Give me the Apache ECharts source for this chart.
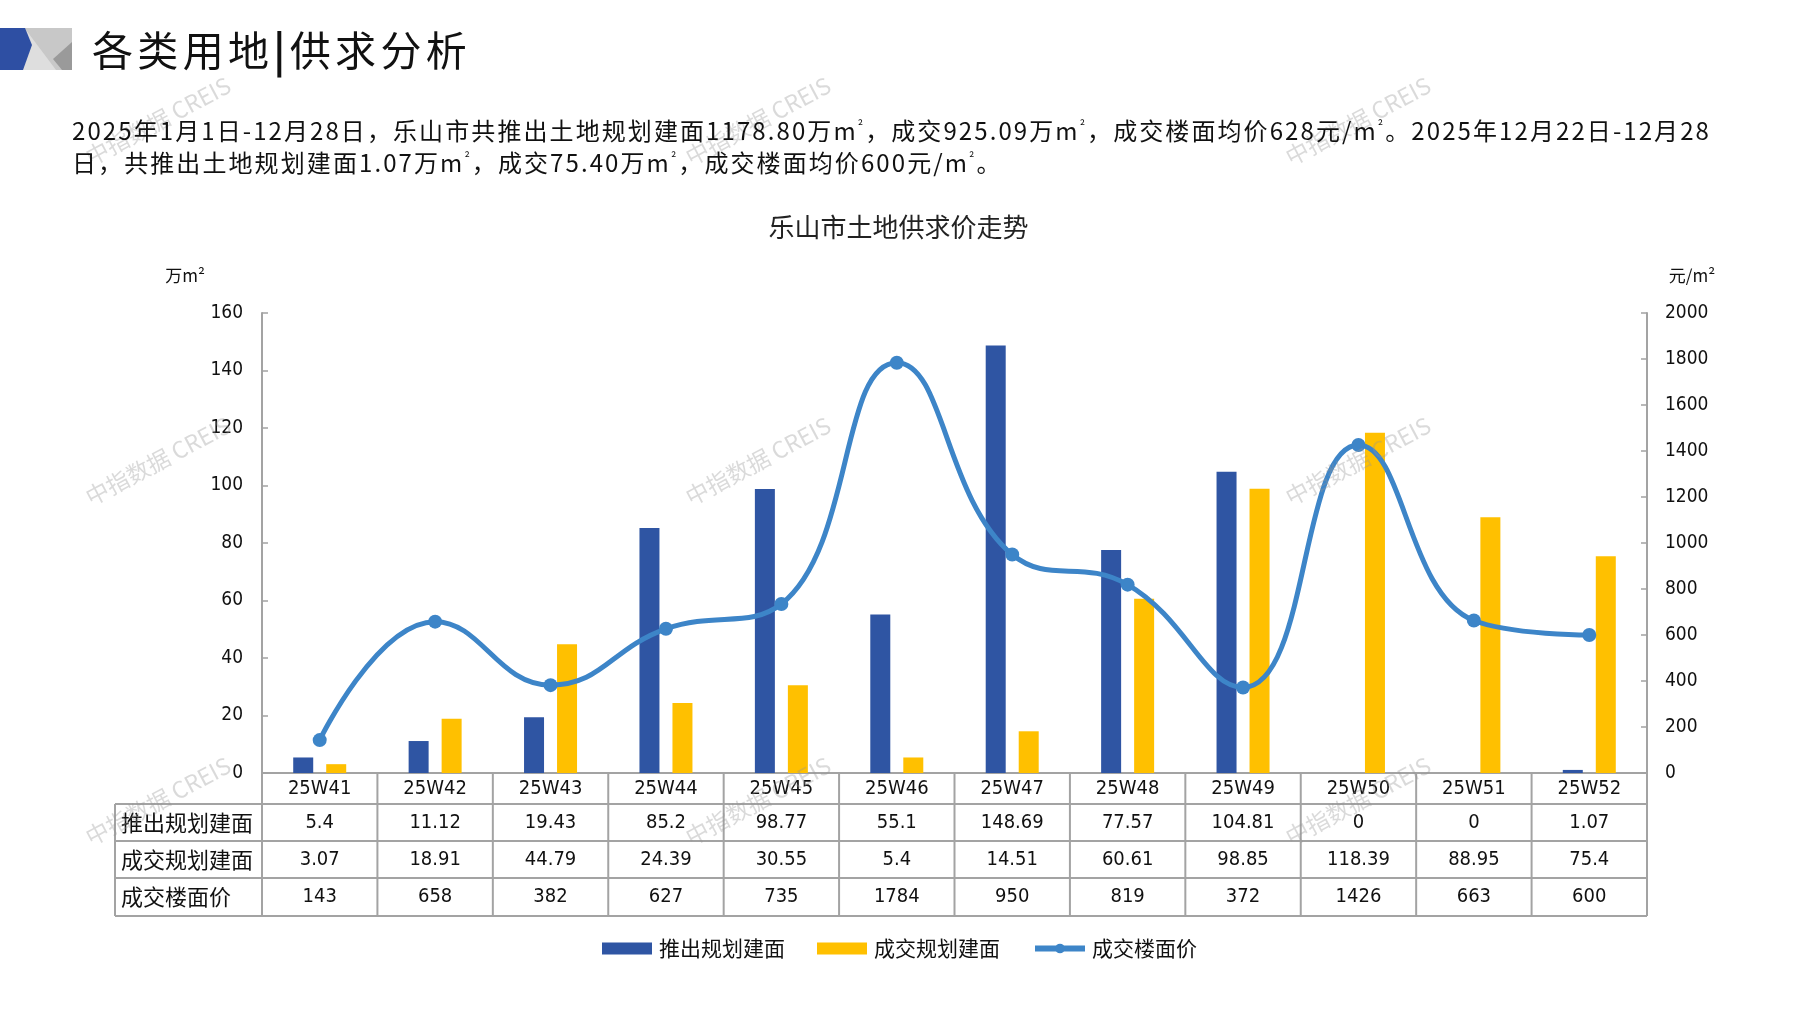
<!DOCTYPE html>
<html><head><meta charset="utf-8">
<script src="https://cdn.jsdelivr.net/npm/echarts@6/dist/echarts.min.js"></script>
<style>
html,body{margin:0;padding:0;background:#fff;width:1797px;height:1010px;overflow:hidden;}
#chart{position:absolute;left:0;top:0;width:1797px;height:1010px;}
.hd{position:absolute;font-family:"Noto Sans CJK SC",sans-serif;color:#111;white-space:nowrap;}
.sq{font-size:13px;vertical-align:9px;line-height:0;}
</style></head><body>
<div id="chart"></div>
<div class="hd" id="title" style="left:92px;top:20px;font-size:41px;line-height:56px;">各类用地<span style="font-weight:bold">|</span>供求分析</div>
<div class="hd" id="para" style="left:72px;top:114px;font-size:24px;line-height:32px;"><span id="l1">2025年1月1日-12月28日，乐山市共推出土地规划建面1178.80万m<span class="sq">²</span>，成交925.09万m<span class="sq">²</span>，成交楼面均价628元/m<span class="sq">²</span>。2025年12月22日-12月28</span><br><span id="l2">日，共推出土地规划建面1.07万m<span class="sq">²</span>，成交75.40万m<span class="sq">²</span>，成交楼面均价600元/m<span class="sq">²</span>。</span></div>
<script>
// ---- data ----
const categories = ['25W41','25W42','25W43','25W44','25W45','25W46','25W47','25W48','25W49','25W50','25W51','25W52'];
const supplyArea = [5.4, 11.12, 19.43, 85.2, 98.77, 55.1, 148.69, 77.57, 104.81, 0, 0, 1.07];
const dealArea = [3.07, 18.91, 44.79, 24.39, 30.55, 5.4, 14.51, 60.61, 98.85, 118.39, 88.95, 75.4];
const dealPrice = [143, 658, 382, 627, 735, 1784, 950, 819, 372, 1426, 663, 600];
const seriesNames = ['推出规划建面', '成交规划建面', '成交楼面价'];
const leftTicks = {min: 0, max: 160, interval: 20};
const rightTicks = {min: 0, max: 2000, interval: 200};

// letter spacing fit for header texts
(function(){
  const l1 = document.getElementById('l1');
  const w = l1.getBoundingClientRect().width;
  const n = l1.textContent.length;
  const ls = (1639 - w) / n;
  document.getElementById('para').style.letterSpacing = ls + 'px';
  const t = document.getElementById('title');
  const tw = t.getBoundingClientRect().width;
  t.style.letterSpacing = ((379 - tw) / t.textContent.length) + 'px';
})();

const FONT = '"Noto Sans CJK SC", sans-serif';
const NUMFONT = '"Liberation Sans Narrow", "DejaVu Sans Condensed", "Noto Sans CJK SC", sans-serif';
const BLUE = '#2F55A3', YELLOW = '#FFC000', LINE = '#3D85C8', GRID = '#a3a3a3';

const chart = echarts.init(document.getElementById('chart'));
const option = {
  backgroundColor: '#fff',
  animation: false,
  title: {text: '乐山市土地供求价走势', left: 'center', top: 209,
    textStyle: {fontFamily: FONT, fontSize: 26, fontWeight: 'normal', color: '#222'}},
  legend: {
    left: 597, top: 933, itemWidth: 50, itemHeight: 12, itemGap: 32,
    textStyle: {fontFamily: FONT, fontSize: 21, color: '#111', padding: [0, 0, 0, 2]},
    data: [{name: seriesNames[0], icon: 'rect'}, {name: seriesNames[1], icon: 'rect'},
           {name: seriesNames[2], lineStyle: {width: 6, color: LINE}, itemStyle: {color: LINE}}]
  },
  grid: {left: 262, right: 150, top: 313, bottom: 237, containLabel: false},
  xAxis: {
    type: 'category', data: categories,
    axisLine: {show: true, lineStyle: {color: GRID, width: 2}},
    axisTick: {show: false},
    axisLabel: {show: true, margin: 6, fontFamily: NUMFONT, fontSize: 20, color: '#111', interval: 0}
  },
  yAxis: [
    {type: 'value', min: leftTicks.min, max: leftTicks.max, interval: leftTicks.interval,
     splitLine: {show: false},
     axisLine: {show: true, lineStyle: {color: GRID, width: 2}},
     axisTick: {show: true, inside: true, length: 6, lineStyle: {color: GRID, width: 1.5}},
     axisLabel: {margin: 19, fontFamily: NUMFONT, fontSize: 19, color: '#111'}},
    {type: 'value', min: rightTicks.min, max: rightTicks.max, interval: rightTicks.interval,
     splitLine: {show: false},
     axisLine: {show: true, lineStyle: {color: GRID, width: 2}},
     axisTick: {show: true, inside: true, length: 6, lineStyle: {color: GRID, width: 1.5}},
     axisLabel: {margin: 18, fontFamily: NUMFONT, fontSize: 19, color: '#111', formatter: v => String(v)}}
  ],
  series: [
    {name: seriesNames[0], type: 'bar', data: supplyArea, barWidth: 20, barGap: '65%',
     itemStyle: {color: BLUE}},
    {name: seriesNames[1], type: 'bar', data: dealArea, barWidth: 20,
     itemStyle: {color: YELLOW}},
    {name: seriesNames[2], type: 'line', yAxisIndex: 1, data: dealPrice, smooth: 0.45,
     symbol: 'circle', symbolSize: 14, z: 5,
     lineStyle: {color: LINE, width: 5}, itemStyle: {color: LINE}}
  ]
};
chart.setOption(option);

// ---- table, logo, unit labels, watermarks ----
function buildGraphics(){
  const g = [];
  const xs = categories.map((c, i) => chart.convertToPixel({xAxisIndex: 0}, i));
  const bw = xs[1] - xs[0];
  const y0 = chart.convertToPixel({yAxisIndex: 0}, 0);
  const rowY = [y0, y0 + 31, y0 + 68, y0 + 105, y0 + 143];
  const tableLeft = 115;
  const tableRight = xs[xs.length - 1] + bw / 2;
  const ln = (x1, y1, x2, y2) => g.push({type: 'line', shape: {x1, y1, x2, y2}, style: {stroke: GRID, lineWidth: 2}, z: 10});
  for (let k = 1; k < rowY.length; k++) ln(tableLeft, rowY[k], tableRight, rowY[k]);
  ln(tableLeft, rowY[1], tableLeft, rowY[4]);
  for (let i = 0; i <= categories.length; i++) {
    const x = xs[0] - bw / 2 + i * bw;
    ln(x, rowY[0], x, rowY[4]);
  }
  const rows = [[seriesNames[0], supplyArea], ['成交规划建面', dealArea], [seriesNames[2], dealPrice]];
  rows.forEach((r, k) => {
    const cy = (rowY[k + 1] + rowY[k + 2]) / 2;
    g.push({type: 'text', x: tableLeft + 6, y: cy, z: 10,
      style: {text: r[0], font: '22px ' + FONT, fill: '#111', textAlign: 'left', textVerticalAlign: 'middle'}});
    r[1].forEach((v, i) => g.push({type: 'text', x: xs[i], y: cy, z: 10,
      style: {text: String(v), font: '20px ' + NUMFONT, fill: '#111', textAlign: 'center', textVerticalAlign: 'middle'}}));
  });
  // unit labels
  g.push({type: 'text', x: 185, y: 276, style: {text: '万m²', font: '17px ' + FONT, fill: '#111', textAlign: 'center', textVerticalAlign: 'middle'}});
  g.push({type: 'text', x: 1692, y: 276, style: {text: '元/m²', font: '17px ' + FONT, fill: '#111', textAlign: 'center', textVerticalAlign: 'middle'}});
  // logo
  g.push({type: 'rect', shape: {x: 0, y: 28, width: 72, height: 42}, style: {fill: '#c8c8c8'}});
  g.push({type: 'polygon', shape: {points: [[26, 30], [56, 70], [22, 70], [31, 46]]}, style: {fill: '#dedede'}});
  g.push({type: 'polygon', shape: {points: [[72, 42], [72, 70], [62, 70], [53, 59]]}, style: {fill: '#9a9a9a'}});
  g.push({type: 'polygon', shape: {points: [[0, 28], [25, 28], [32, 45], [23, 70], [0, 70]]}, style: {fill: '#2E4FA3'}});
  // watermarks
  const wx = [158, 758, 1358], wy = [121, 461, 801];
  wy.forEach(y => wx.forEach(x => g.push({type: 'text', x, y, rotation: 28 * Math.PI / 180, z: 100,
    style: {text: '中指数据 CREIS', font: '23px ' + FONT, fill: 'rgba(150,150,150,0.35)', textAlign: 'center', textVerticalAlign: 'middle'}})));
  chart.setOption({graphic: g});
}
buildGraphics();
</script>
</body></html>
